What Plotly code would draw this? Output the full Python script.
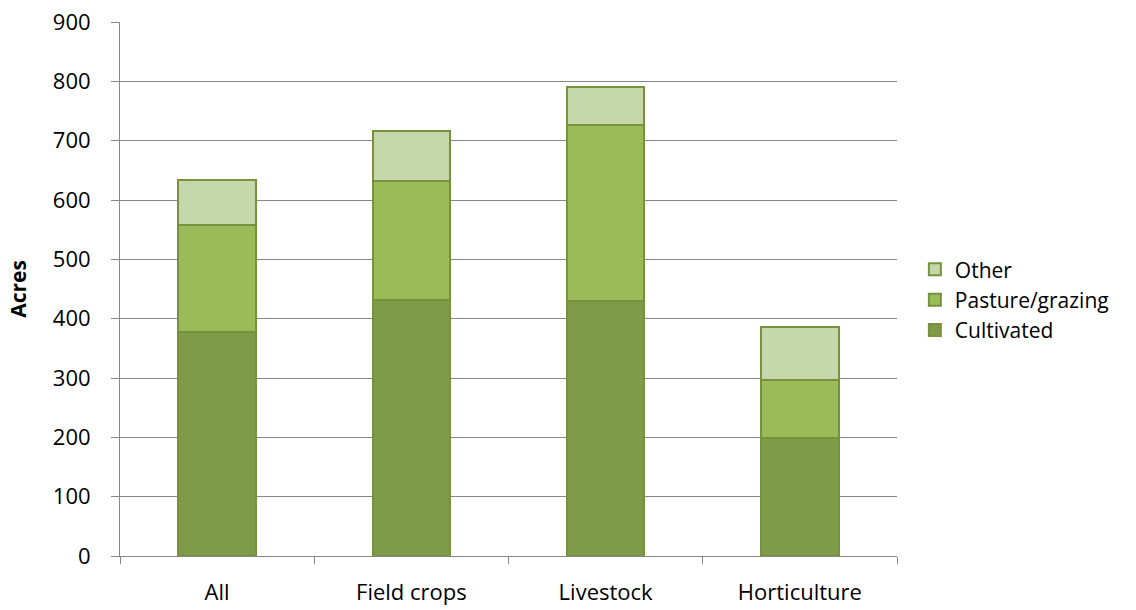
import plotly.graph_objects as go

categories = ["All", "Field crops", "Livestock", "Horticulture"]
cultivated = [378, 432, 429, 199]
pasture = [180, 200, 298, 97]
other = [76, 85, 63, 90]

series_names = ["Cultivated", "Pasture/grazing", "Other"]
series_colors = ["#7F9A48", "#9BBB59", "#C6D7AC"]
outline = "#76923C"

fig = go.Figure()
for name, vals, col in zip(series_names, [cultivated, pasture, other], series_colors):
    fig.add_trace(go.Bar(
        x=categories, y=vals, name=name,
        marker=dict(color=col, line=dict(color=outline, width=2)),
    ))

font_family = "Open Sans, Noto Sans, sans-serif"
fig.update_layout(
    barmode="stack",
    bargap=0.6,
    width=1136, height=610,
    margin=dict(l=120, r=239, t=22, b=54),
    paper_bgcolor="white", plot_bgcolor="white",
    font=dict(family=font_family, size=21, color="#000000"),
    showlegend=True,
    legend=dict(
        x=1.023, xanchor="left", y=0.48, yanchor="middle",
        traceorder="reversed", font=dict(size=21),
        itemwidth=30, tracegroupgap=0,
    ),
    xaxis=dict(
        type="category",
        tickson="boundaries", ticks="outside", ticklen=7,
        tickcolor="#868686", tickwidth=1,
        showline=True, linecolor="#868686", linewidth=1,
        showgrid=False,
        tickfont=dict(size=22),
        ticklabelstandoff=17,
        automargin=False,
    ),
    yaxis=dict(
        range=[0, 900], dtick=100, tick0=0,
        showgrid=True, gridcolor="#868686", gridwidth=1,
        showline=True, linecolor="#868686", linewidth=1,
        ticks="outside", ticklen=8, tickcolor="#868686",
        tickfont=dict(size=22),
        ticklabelstandoff=16,
        title=dict(text="<b>Acres</b>", font=dict(size=21), standoff=20),
        zeroline=False,
        automargin=False,
    ),
)

fig.write_html("out.html")
